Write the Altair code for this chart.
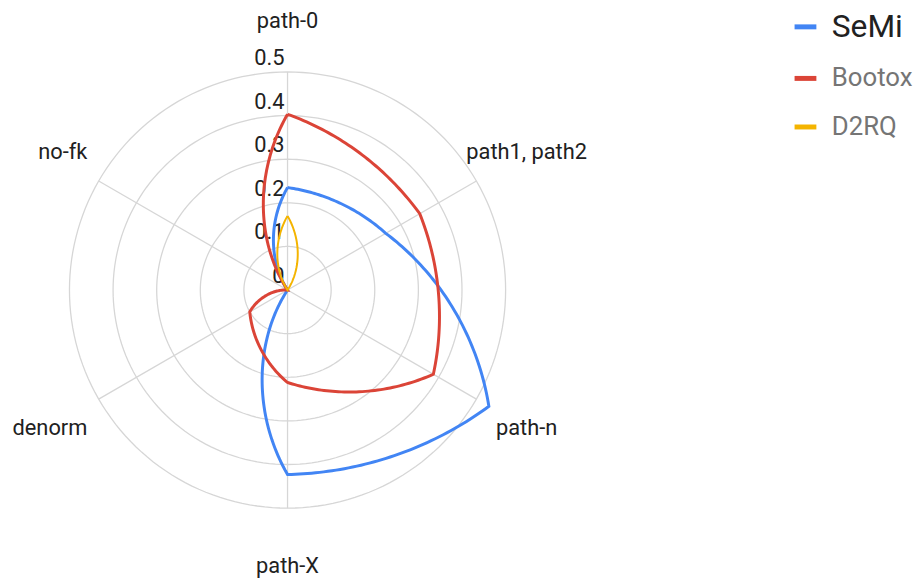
import altair as alt
import pandas as pd

# ---- data ----
categories = ["path-0", "path1, path2", "path-n", "path-X", "denorm", "no-fk"]
series_names = ["SeMi", "Bootox", "D2RQ"]
semi = [0.235, 0.26, 0.533, 0.423, 0.0, 0.0]
bootox = [0.403, 0.35, 0.386, 0.212, 0.10, 0.0]
d2rq = [0.17, 0.0, 0.0, 0.0, 0.0, 0.0]
tick_values = [0, 0.1, 0.2, 0.3, 0.4, 0.5]
tick_labels = ["0", "0.1", "0.2", "0.3", "0.4", "0.5"]
colors = ["#4285F4", "#DB4437", "#F4B400"]

# ---- layout ----
W, H = 916, 574
PX = 440.0          # pixels per data unit
CX, CY = 282, 282   # centre of the radar in chart pixels
xs = alt.Scale(domain=[-CX / PX, (W - CX) / PX], nice=False, zero=False)
ys = alt.Scale(domain=[-(H - CY) / PX, CY / PX], nice=False, zero=False)
RMAX = max(tick_values)
BLEND = 0.55
FONT = "Roboto"

rows = []
for name, vals in zip(series_names, [semi, bootox, d2rq]):
    for i, v in enumerate(vals):
        rows.append({"series": name, "idx": i, "value": v})
df = pd.DataFrame(rows)

grid_df = pd.DataFrame({"level": tick_values[1:]})
spoke_df = pd.DataFrame({"category": categories, "idx": list(range(len(categories)))})
tick_df = pd.DataFrame({"value": tick_values, "label": tick_labels})

N = len(categories)
STEP = f"(2*PI/{N})"

grid = (
    alt.Chart(grid_df)
    .transform_calculate(deg="sequence(0, 361, 2)")
    .transform_flatten(["deg"])
    .transform_calculate(gx="datum.level*sin(datum.deg*PI/180)")
    .transform_calculate(gy="datum.level*cos(datum.deg*PI/180)")
    .mark_line(color="#d6d6d6", strokeWidth=1.3)
    .encode(
        x=alt.X("gx:Q", scale=xs, axis=None),
        y=alt.Y("gy:Q", scale=ys, axis=None),
        detail="level:N",
        order="deg:Q",
    )
)

spokes = (
    alt.Chart(spoke_df)
    .transform_calculate(zero="0")
    .transform_calculate(ex=f"{RMAX}*sin(datum.idx*{STEP})")
    .transform_calculate(ey=f"{RMAX}*cos(datum.idx*{STEP})")
    .mark_rule(color="#d6d6d6", strokeWidth=1.3)
    .encode(
        x=alt.X("zero:Q", scale=xs, axis=None),
        y=alt.Y("zero:Q", scale=ys, axis=None),
        x2="ex:Q",
        y2="ey:Q",
    )
)

ticks_text = (
    alt.Chart(tick_df)
    .transform_calculate(zero="0")
    .mark_text(align="right", baseline="middle", dx=-3, dy=-14,
               font=FONT, fontSize=22, color="#212121")
    .encode(
        x=alt.X("zero:Q", scale=xs, axis=None),
        y=alt.Y("value:Q", scale=ys, axis=None),
        text="label:N",
    )
)

# label radius: slightly tighter at the top so the top label stays inside
cat_right = (
    alt.Chart(spoke_df)
    .transform_calculate(s=f"sin(datum.idx*{STEP})")
    .transform_filter("datum.s > -0.1")
    .transform_calculate(lr="datum.idx == 0 ? 0.616 : 0.633")
    .transform_calculate(lx=f"datum.lr*sin(datum.idx*{STEP})")
    .transform_calculate(ly=f"datum.lr*cos(datum.idx*{STEP})")
    .mark_text(align="center", baseline="middle", font=FONT, fontSize=22, color="#212121")
    .encode(
        x=alt.X("lx:Q", scale=xs, axis=None),
        y=alt.Y("ly:Q", scale=ys, axis=None),
        text="category:N",
    )
)

cat_left = (
    alt.Chart(spoke_df)
    .transform_calculate(s=f"sin(datum.idx*{STEP})")
    .transform_filter("datum.s <= -0.1")
    .transform_calculate(lx=f"0.53*sin(datum.idx*{STEP})")
    .transform_calculate(ly=f"0.633*cos(datum.idx*{STEP})")
    .mark_text(align="right", baseline="middle", font=FONT, fontSize=22, color="#212121")
    .encode(
        x=alt.X("lx:Q", scale=xs, axis=None),
        y=alt.Y("ly:Q", scale=ys, axis=None),
        text="category:N",
    )
)

legend = alt.Legend(
    orient="none", legendX=791, legendY=3, title=None,
    symbolType="stroke", symbolSize=484, symbolStrokeWidth=5, symbolOpacity=1,
    labelFont=FONT,
    labelFontSize={"expr": "datum.value == 'SeMi' ? 32 : 26"},
    labelColor={"expr": "datum.value == 'SeMi' ? '#212121' : '#757575'"},
    labelOffset=13, rowPadding=22, padding=0, labelLimit=300,
)


def series_line(name, width):
    return (
        alt.Chart(df)
        .transform_filter(alt.datum.series == name)
        .transform_window(nxt="lead(value)", first="first_value(value)",
                          sort=[alt.SortField("idx")])
        .transform_calculate(nv="isValid(datum.nxt) ? datum.nxt : datum.first")
        .transform_calculate(ts="sequence(0, 1.0001, 0.02)")
        .transform_flatten(["ts"])
        .transform_calculate(a0=f"datum.idx*{STEP}")
        .transform_calculate(a1=f"(datum.idx+1)*{STEP}")
        .transform_calculate(a=f"datum.a0 + datum.ts*{STEP}")
        .transform_calculate(r="datum.value + datum.ts*(datum.nv - datum.value)")
        .transform_calculate(lx="(1-datum.ts)*datum.value*sin(datum.a0) + datum.ts*datum.nv*sin(datum.a1)")
        .transform_calculate(ly="(1-datum.ts)*datum.value*cos(datum.a0) + datum.ts*datum.nv*cos(datum.a1)")
        .transform_calculate(px=f"{BLEND}*datum.r*sin(datum.a) + {1 - BLEND}*datum.lx")
        .transform_calculate(py=f"{BLEND}*datum.r*cos(datum.a) + {1 - BLEND}*datum.ly")
        .transform_calculate(ord="datum.idx + datum.ts")
        .mark_line(strokeWidth=width, strokeJoin="miter")
        .encode(
            x=alt.X("px:Q", scale=xs, axis=None),
            y=alt.Y("py:Q", scale=ys, axis=None),
            order="ord:Q",
            color=alt.Color("series:N",
                            scale=alt.Scale(domain=series_names, range=colors),
                            legend=legend),
        )
    )


lines = [series_line("SeMi", 3), series_line("Bootox", 3), series_line("D2RQ", 2)]

chart = (
    alt.layer(grid, spokes, ticks_text, cat_right, cat_left, *lines)
    .properties(width=W, height=H, padding=0,
                autosize=alt.AutoSizeParams(type="none"))
    .configure_view(stroke=None)
)

chart.save("out.html", embed_options={"renderer": "svg", "actions": False})
